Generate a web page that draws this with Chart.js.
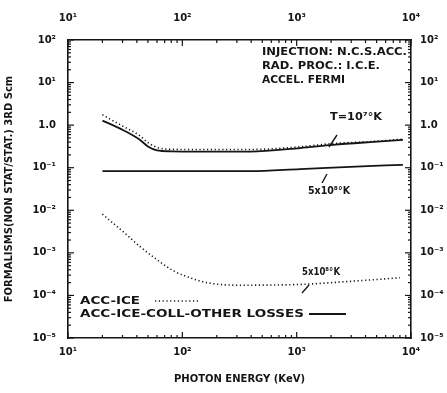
<!doctype html>
<html>
<head>
<title>Formalisms vs photon energy</title>
<script src="https://cdn.jsdelivr.net/npm/chart.js@4"></script>
<style>
  body { margin: 0; background: #fff; }
</style>
</head>
<body>
<canvas id="canvas" width="447" height="393"></canvas>
<script>
// photon energy (keV) where the curves were read
var energyT7 = [20, 30.5, 42.7, 50, 60, 80, 143, 391, 1070, 2080, 4380, 8500];
var accIceT7 = [1.75, 0.93, 0.56, 0.39, 0.30, 0.27, 0.268, 0.268, 0.31, 0.37, 0.41, 0.47];
var accIceCollT7 = [1.28, 0.76, 0.45, 0.316, 0.256, 0.243, 0.24, 0.24, 0.29, 0.345, 0.40, 0.45];

var energyT5e8 = [20, 30.5, 42.7, 59.7, 83.4, 117, 163, 299, 1000, 2930, 8000];
var accIceT5e8 = [0.0081, 0.0031, 0.0014, 7.0e-4, 3.8e-4, 2.6e-4, 2.0e-4, 1.74e-4, 1.8e-4, 2.14e-4, 2.6e-4];

var energyT5e8Coll = [20, 67.7, 391, 1070, 2930, 8500];
var accIceCollT5e8 = [0.083, 0.083, 0.083, 0.093, 0.105, 0.117];

var xTicks = [10, 100, 1000, 10000];
var xTickLabels = ['10¹', '10²', '10³', '10⁴'];
var yTicks = [1e-5, 1e-4, 1e-3, 1e-2, 1e-1, 1, 10, 100];
var yTickLabels = ['10⁻⁵', '10⁻⁴', '10⁻³', '10⁻²', '10⁻¹', '1.0', '10¹', '10²'];

var FONT = 'DejaVu Sans, Liberation Sans, sans-serif';
var INK = '#151515';

function pts(xs, ys) {
  return xs.map(function(x, i) { return {x: x, y: ys[i]}; });
}

function dotted(label, data) {
  return {label: label, data: data, borderColor: INK, borderWidth: 1.6,
    borderDash: [1.2, 2.6], pointRadius: 0, cubicInterpolationMode: 'monotone', fill: false};
}
function solid(label, data) {
  return {label: label, data: data, borderColor: INK, borderWidth: 1.8,
    pointRadius: 0, cubicInterpolationMode: 'monotone', fill: false};
}

// draw text squeezed/stretched to a given width
function fitText(ctx, str, x0, x1, y, size) {
  ctx.save();
  ctx.font = 'bold ' + size + 'px ' + FONT;
  ctx.textBaseline = 'middle';
  ctx.textAlign = 'left';
  var w = ctx.measureText(str).width;
  ctx.translate(x0, y);
  ctx.scale((x1 - x0) / w, 1);
  ctx.fillText(str, 0, 0);
  ctx.restore();
}

function line(ctx, x0, y0, x1, y1, w, dash) {
  ctx.save();
  ctx.strokeStyle = INK;
  ctx.lineWidth = w;
  ctx.setLineDash(dash || []);
  ctx.beginPath();
  ctx.moveTo(x0, y0);
  ctx.lineTo(x1, y1);
  ctx.stroke();
  ctx.restore();
}

// inward ticks on all four sides, from the scales
var frameTicks = {
  id: 'frameTicks',
  afterDraw: function(chart) {
    var ctx = chart.ctx, a = chart.chartArea;
    var xs = chart.scales.x, ys = chart.scales.y;
    function each(decades, fn) {
      decades.forEach(function(d, i) {
        fn(d, 6);
        if (i < decades.length - 1) {
          for (var k = 2; k <= 9; k++) fn(k * d, 3);
        }
      });
    }
    each(xTicks, function(v, len) {
      var px = xs.getPixelForValue(v);
      line(ctx, px, a.bottom, px, a.bottom - len, 1.2);
      line(ctx, px, a.top, px, a.top + len, 1.2);
    });
    each(yTicks, function(v, len) {
      var py = ys.getPixelForValue(v);
      line(ctx, a.left, py, a.left + len, py, 1.2);
      line(ctx, a.right, py, a.right - len, py, 1.2);
    });
  }
};

var notes = {
  id: 'notes',
  afterDatasetsDraw: function(chart) {
    var ctx = chart.ctx;
    ctx.fillStyle = INK;
    fitText(ctx, 'INJECTION: N.C.S.ACC.', 262, 407, 52, 10);
    fitText(ctx, 'RAD. PROC.: I.C.E.', 262, 380, 66, 10);
    fitText(ctx, 'ACCEL. FERMI', 262, 345, 80, 10);

    fitText(ctx, 'T=10⁷°K', 330, 382, 117, 10);
    line(ctx, 329, 147, 337, 135, 1.4);
    fitText(ctx, '5x10⁸°K', 308, 350, 191, 10);
    line(ctx, 327, 174, 322, 183, 1.4);
    fitText(ctx, '5x10⁸°K', 302, 340, 272, 10);
    line(ctx, 302, 293, 309, 285, 1.4);

    fitText(ctx, 'ACC-ICE', 80, 140, 301, 10);
    line(ctx, 155, 301, 200, 301, 1.5, [1.2, 2.6]);
    fitText(ctx, 'ACC-ICE-COLL-OTHER LOSSES', 80, 304, 314, 10);
    line(ctx, 309, 314, 346, 314, 1.8);
  }
};

function logAxis(pos, min, max, ticks, labels, size, extra) {
  var o = {
    type: 'logarithmic',
    position: pos,
    min: min,
    max: max,
    afterBuildTicks: function(s) { s.ticks = ticks.map(function(v) { return {value: v}; }); },
    afterFit: function(s) {
      if (pos === 'left' || pos === 'right') s.width = size; else s.height = size;
    },
    grid: {display: false, drawTicks: false},
    border: {display: true, color: INK, width: 1.6},
    ticks: {
      autoSkip: false,
      maxRotation: 0,
      color: INK,
      font: {family: FONT, size: 10, weight: 'bold'},
      callback: function(v, i) { return labels[i]; }
    }
  };
  for (var k in extra) o[k] = extra[k];
  return o;
}

window.onload = function() {
  var ctx = document.getElementById('canvas').getContext('2d');
  var xs = logAxis('bottom', 10, 10000, xTicks, xTickLabels, 55, {
    title: {display: true, text: 'PHOTON ENERGY (KeV)', color: INK,
      font: {family: FONT, size: 10, weight: 'bold'}, padding: {top: 0, bottom: 8}}
  });
  xs.ticks.padding = 8;
  var xTop = logAxis('top', 10, 10000, xTicks, xTickLabels, 40, {});
  xTop.ticks.padding = 16;
  var yl = logAxis('left', 1e-5, 100, yTicks, yTickLabels, 68, {
    title: {display: true, text: 'FORMALISMS(NON STAT/STAT.) 3RD Scm', color: INK,
      font: {family: FONT, size: 10, weight: 'bold'}, padding: {top: 3, bottom: 0}}
  });
  yl.ticks.padding = 12;
  var yr = logAxis('right', 1e-5, 100, yTicks, yTickLabels, 36, {});
  yr.ticks.padding = 9;

  window.myChart = new Chart(ctx, {
    type: 'line',
    data: {
      datasets: [
        dotted('ACC-ICE, T=10⁷°K', pts(energyT7, accIceT7)),
        solid('ACC-ICE-COLL-OTHER LOSSES, T=10⁷°K', pts(energyT7, accIceCollT7)),
        dotted('ACC-ICE, 5x10⁸°K', pts(energyT5e8, accIceT5e8)),
        solid('ACC-ICE-COLL-OTHER LOSSES, 5x10⁸°K', pts(energyT5e8Coll, accIceCollT5e8))
      ]
    },
    options: {
      responsive: false,
      animation: false,
      devicePixelRatio: 1,
      layout: {padding: 0},
      scales: {x: xs, x2: xTop, y: yl, y2: yr},
      plugins: {legend: {display: false}, tooltip: {enabled: false}}
    },
    plugins: [frameTicks, notes]
  });
};
</script>
</body>
</html>
